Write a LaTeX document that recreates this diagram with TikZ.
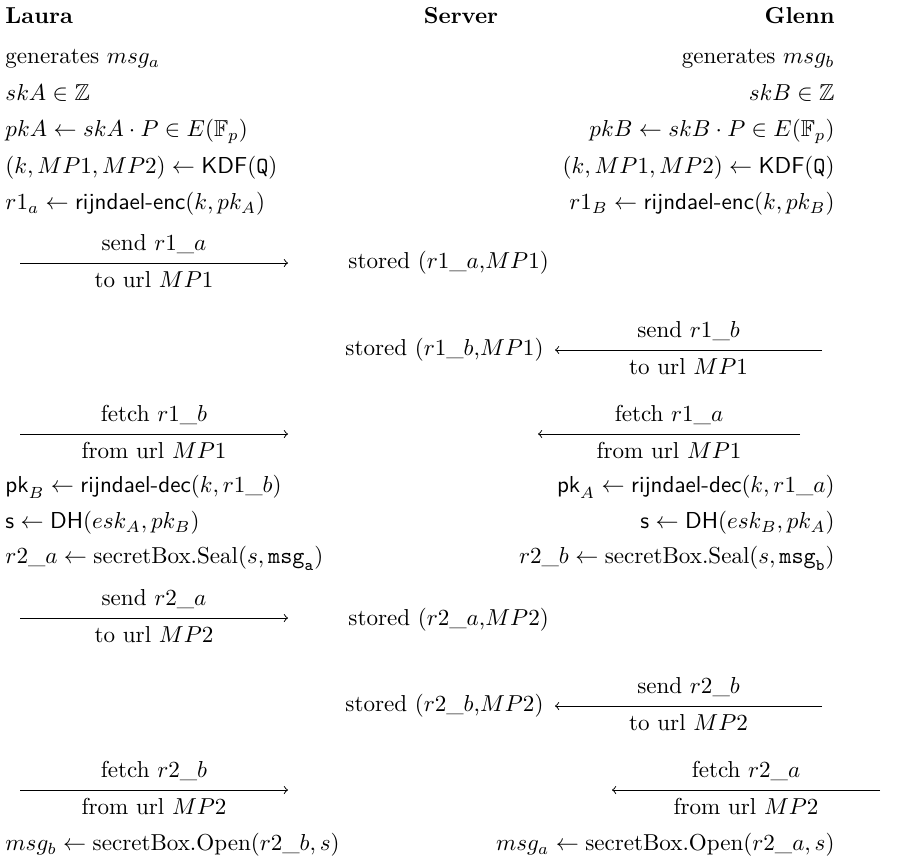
\documentclass[tikz,border=0pt]{standalone}
\usepackage{amsmath,amssymb}
\begin{document}
\begin{tikzpicture}[>=to, x=0.4334pt, y=-0.4334pt]
	\tikzset{
		row/.style={inner sep=0pt, text height=7pt, text depth=2pt},
		party/.style={row, font=\bfseries},
		msg/.style={->, thin},
		lbl/.style={midway, text height=7pt, text depth=2pt},
	}
	\useasboundingbox (0,0) rectangle (923,866);
	% parties
	\node[party, anchor=west] (laura) at (5,18) {Laura};
	\node[party] (server) at (461,18) {Server};
	\node[party, anchor=east] (glenn) at (835,18) {Glenn};
	% Laura, setup
	\node[row, anchor=west] (la1) at (5,58) {generates $msg_a$};
	\node[row, anchor=west] (la2) at (5,95) {$skA \in \mathbb{Z}$};
	\node[row, anchor=west] (la3) at (5,131) {$pkA \leftarrow skA \cdot P \in E(\mathbb{F}_p)$};
	\node[row, anchor=west] (la4) at (5,168) {$(k, MP1, MP2) \leftarrow \mathsf{KDF}(\mathtt{Q})$};
	\node[row, anchor=west] (la5) at (5,204) {$r1_a \leftarrow \textsf{rijndael-enc}(k, pk_A)$};
	% Glenn, setup
	\node[row, anchor=east] (gl1) at (835,58) {generates $msg_b$};
	\node[row, anchor=east] (gl2) at (835,95) {$skB \in \mathbb{Z}$};
	\node[row, anchor=east] (gl3) at (835,131) {$pkB \leftarrow skB \cdot P \in E(\mathbb{F}_p)$};
	\node[row, anchor=east] (gl4) at (835,168) {$(k, MP1, MP2) \leftarrow \mathsf{KDF}(\mathtt{Q})$};
	\node[row, anchor=east] (gl5) at (835,204) {$r1_B \leftarrow \textsf{rijndael-enc}(k, pk_B)$};
	% round 1
	\coordinate (s1a) at (20,263);
	\coordinate (e1a) at (288,263);
	\draw[msg] (s1a) -- (e1a) node[lbl, above] {send $r1\_a$} node[lbl, below] {to url $MP1$};
	\node[row, anchor=west] (st1a) at (348,263) {stored ($r1\_a$,$MP1$)};
	\node[row, anchor=west] (st1b) at (345,350) {stored ($r1\_b$,$MP1$)};
	\coordinate (s1b) at (822,350);
	\coordinate (e1b) at (555,350);
	\draw[msg] (s1b) -- (e1b) node[lbl, above] {send $r1\_b$} node[lbl, below] {to url $MP1$};
	\coordinate (sf1b) at (20,434);
	\coordinate (ef1b) at (288,434);
	\draw[msg] (sf1b) -- (ef1b) node[lbl, above] {fetch $r1\_b$} node[lbl, below] {from url $MP1$};
	\coordinate (sf1a) at (800,434);
	\coordinate (ef1a) at (538,434);
	\draw[msg] (sf1a) -- (ef1a) node[lbl, above] {fetch $r1\_a$} node[lbl, below] {from url $MP1$};
	% decrypt and seal
	\node[row, anchor=west] (la6) at (5,487) {$\mathsf{pk}_B \leftarrow \textsf{rijndael-dec}(k, r1\_b)$};
	\node[row, anchor=west] (la7) at (5,523) {$\mathsf{s} \leftarrow \mathsf{DH}(esk_A, pk_B)$};
	\node[row, anchor=west] (la8) at (5,558) {$r2\_a \leftarrow \text{secretBox.Seal}(s, \mathtt{msg}_\mathtt{a})$};
	\node[row, anchor=east] (gl6) at (835,487) {$\mathsf{pk}_A \leftarrow \textsf{rijndael-dec}(k, r1\_a)$};
	\node[row, anchor=east] (gl7) at (835,523) {$\mathsf{s} \leftarrow \mathsf{DH}(esk_B, pk_A)$};
	\node[row, anchor=east] (gl8) at (835,558) {$r2\_b \leftarrow \text{secretBox.Seal}(s, \mathtt{msg}_\mathtt{b})$};
	% round 2
	\coordinate (s2a) at (20,618);
	\coordinate (e2a) at (288,618);
	\draw[msg] (s2a) -- (e2a) node[lbl, above] {send $r2\_a$} node[lbl, below] {to url $MP2$};
	\node[row, anchor=west] (st2a) at (348,620) {stored ($r2\_a$,$MP2$)};
	\node[row, anchor=west] (st2b) at (345,706) {stored ($r2\_b$,$MP2$)};
	\coordinate (s2b) at (822,706);
	\coordinate (e2b) at (555,706);
	\draw[msg] (s2b) -- (e2b) node[lbl, above] {send $r2\_b$} node[lbl, below] {to url $MP2$};
	\coordinate (sf2b) at (20,790);
	\coordinate (ef2b) at (288,790);
	\draw[msg] (sf2b) -- (ef2b) node[lbl, above] {fetch $r2\_b$} node[lbl, below] {from url $MP2$};
	\coordinate (sf2a) at (880,790);
	\coordinate (ef2a) at (612,790);
	\draw[msg] (sf2a) -- (ef2a) node[lbl, above] {fetch $r2\_a$} node[lbl, below] {from url $MP2$};
	% open
	\node[row, anchor=west] (la9) at (5,845) {$msg_b \leftarrow \text{secretBox.Open}(r2\_b, s)$};
	\node[row, anchor=east] (gl9) at (835,845) {$msg_a \leftarrow \text{secretBox.Open}(r2\_a, s)$};
\end{tikzpicture}
\end{document}
